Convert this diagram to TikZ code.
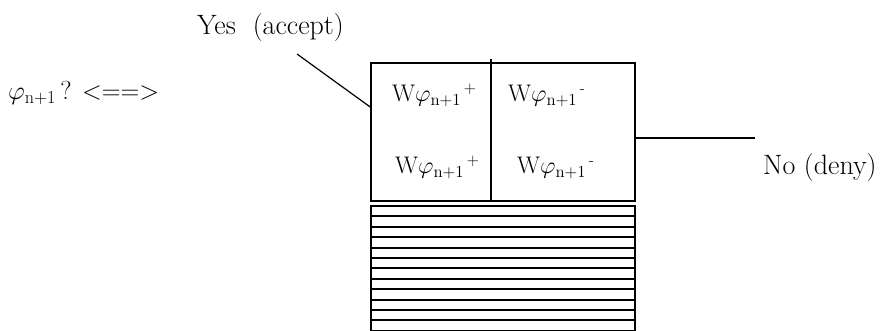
\documentclass[tikz,border=0pt]{standalone}
\usepackage{fix-cm}
\usepackage{amsmath}
\usepackage{tikz}
\usetikzlibrary{positioning}
\newcommand{\phinext}{$\varphi_{\mathrm{n+1}}$}
\newcommand{\wcell}[1]{W$\varphi_{\mathrm{n+1}}{}^{\,\text{#1}}$}

\begin{document}
\begin{tikzpicture}[x=1pt, y=-1pt,
    lbl/.style={anchor=base west, inner sep=0pt, font=\fontsize{24}{28}\selectfont},
    answer/.style={lbl, font=\fontsize{28}{32}\selectfont},
    frame/.style={draw, line width=1.6pt, inner sep=0pt}]
    \useasboundingbox (0,0) rectangle (889,331);
    % upper box with the two columns
    \node[frame, minimum width=264pt, minimum height=138pt] (grid) at (503,132) {};
    \coordinate (divtop) at (491,59);
    \draw[line width=1.6pt] (divtop) -- (divtop |- grid.south);
    % lower box, striped
    \node[frame, minimum width=264pt, minimum height=125pt] (hatch) at (503,268.5) {};
    \foreach \k in {1,...,11}
    {
        \draw[line width=2pt] (371,206+10.4*\k) -- (635,206+10.4*\k);
    }
    % texts
    \node[lbl, font=\fontsize{26}{30}\selectfont] (query) at (8,100) {\phinext\,? <==>};
    \node[answer] (yes) at (197,35) {Yes\ \ (accept)};
    \node[answer] (no) at (763,175) {No (deny)};
    \node[lbl] (c11) at (392,102) {\wcell{+}};
    \node[lbl] (c12) at (508,102) {\wcell{-}};
    \node[lbl] (c21) at (395,174) {\wcell{+}};
    \node[lbl] (c22) at (517,174) {\wcell{-}};
    % lines to the answers
    \coordinate (yesend) at (297,54);
    \coordinate (noend) at (755,138);
    \draw[line width=1.2pt] (yesend) -- ([yshift=25pt]grid.west);
    \draw[line width=1.2pt] ([yshift=-6pt]grid.east) -- (noend);
\end{tikzpicture}
\end{document}
